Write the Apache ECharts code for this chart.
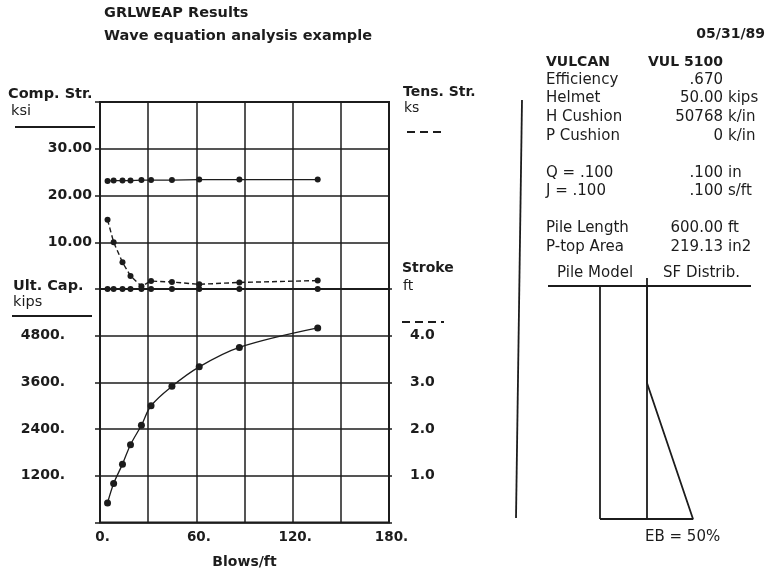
<!DOCTYPE html>
<html><head><meta charset="utf-8">
<script src="https://cdn.jsdelivr.net/npm/echarts@6/dist/echarts.min.js"></script>
<style>html,body{margin:0;padding:0;background:#fff}#c{width:767px;height:571px}</style>
</head><body><div id="c"></div>
<script>
// ---- data ----
const blowsPerFt   = [4.7, 8.5, 14.0, 19.0, 25.8, 31.8, 44.8, 61.8, 86.8, 135.6];
const ultCapKips   = [500, 1000, 1500, 2000, 2500, 3000, 3500, 4000, 4500, 5000];
const compStrKsi   = [23.1, 23.2, 23.2, 23.2, 23.3, 23.3, 23.3, 23.4, 23.4, 23.4];
const tensStrKsi   = [14.8, 10.0, 5.7, 2.8, 0.6, 1.7, 1.5, 1.0, 1.4, 1.8];
const strokeFt     = [5.0, 5.0, 5.0, 5.0, 5.0, 5.0, 5.0, 5.0, 5.0, 5.0];

const xLabelValues    = [0, 60, 120, 180];
const compLabelValues = [10, 20, 30];
const capLabelValues  = [1200, 2400, 3600, 4800];
const strokeLabelValues = [1, 2, 3, 4];

// pile model / skin friction distribution
const sfDepthFt = [0, 250, 600, 600];
const sfRel     = [0, 0, 1, 0];

// right-hand info panel
const panelLabels = ['VULCAN', 'Efficiency', 'Helmet', 'H Cushion', 'P Cushion', 'Q = .100', 'J = .100', 'Pile Length', 'P-top Area'];
const panelValues = ['VUL 5100', '.670', '50.00', '50768', '0', '.100', '.100', '600.00', '219.13'];
const panelUnits  = ['', '', 'kips', 'k/in', 'k/in', 'in', 's/ft', 'ft', 'in2'];
const panelRowY   = [62, 80, 98.5, 117, 136, 173, 191, 228.5, 247];

const INK = '#1c1c1c';
const FONT = 'DejaVu Sans';
const zip = (a, b) => a.map((v, i) => [v, b[i]]);

const chart = echarts.init(document.getElementById('c'), null, {renderer: 'canvas'});

const gridStyle = {show: true, borderColor: INK, borderWidth: 2, backgroundColor: 'transparent', outerBoundsMode: 'none', containLabel: false};
const splitStyle = {show: true, lineStyle: {color: INK, width: 1.5, type: 'solid'}};
const labelBase = {color: INK, fontFamily: FONT, fontWeight: 'bold', fontSize: 14};

function txt(x, y, text, opts) {
  opts = opts || {};
  return {type: 'text', x: x, y: y, silent: true, style: {
    text: text, fill: INK, fontFamily: FONT,
    fontSize: opts.size || 15, fontWeight: opts.bold ? 'bold' : 'normal',
    textAlign: opts.align || 'left', textVerticalAlign: 'middle', verticalAlign: 'middle'
  }};
}
function ln(x1, y1, x2, y2, w, dash) {
  return {type: 'line', silent: true, shape: {x1: x1, y1: y1, x2: x2, y2: y2},
    style: {stroke: INK, lineWidth: w || 1.5, lineDash: dash || null}};
}

const graphics = [
  txt(104, 13, 'GRLWEAP Results', {bold: true, size: 14.5}),
  txt(104, 36, 'Wave equation analysis example', {bold: true, size: 14.5}),
  txt(765, 34, '05/31/89', {bold: true, size: 14, align: 'right'}),
  txt(8, 94, 'Comp. Str.', {bold: true, size: 14.5}),
  txt(11, 111, 'ksi', {size: 14.5}),
  ln(15, 127, 95, 127, 1.8),
  txt(13, 286, 'Ult. Cap.', {bold: true, size: 14.5}),
  txt(13, 302, 'kips', {size: 14.5}),
  ln(12, 316, 92, 316, 1.8),
  txt(403, 92, 'Tens. Str.', {bold: true, size: 14}),
  txt(404, 108, 'ks', {size: 14}),
  ln(407, 132, 446, 132, 2, [8, 5]),
  txt(402, 268, 'Stroke', {bold: true, size: 14}),
  txt(403, 286, 'ft', {size: 14}),
  ln(402, 322, 444, 322, 2, [8, 5]),
  ln(522, 100, 516, 518, 1.8),
  txt(557, 273, 'Pile Model', {size: 15}),
  txt(663, 273, 'SF Distrib.', {size: 15}),
  ln(548, 286, 751, 286, 1.8),
  ln(600, 286, 600, 519, 1.8),
  ln(600, 519, 647, 519, 1.8),
  ln(647, 278, 647, 286, 1.8),
  txt(645, 537, 'EB = 50%', {size: 15})
];
panelLabels.forEach((s, i) => {
  graphics.push(txt(546, panelRowY[i], s, {bold: i === 0, size: i === 0 ? 14 : 15}));
  graphics.push(txt(723, panelRowY[i], panelValues[i], {bold: i === 0, size: i === 0 ? 14 : 15, align: 'right'}));
  if (panelUnits[i]) graphics.push(txt(728, panelRowY[i], panelUnits[i], {size: 15}));
});

const option = {
  backgroundColor: '#ffffff',
  animation: false,
  textStyle: {fontFamily: FONT, color: INK},
  grid: [
    Object.assign({left: 100, top: 102, width: 289, height: 187}, gridStyle),
    Object.assign({left: 100, top: 289, width: 289, height: 233.5}, gridStyle),
    {left: 647, top: 286, width: 46, height: 233, show: false, outerBoundsMode: 'none', containLabel: false}
  ],
  xAxis: [
    {type: 'value', gridIndex: 0, min: 0, max: 180, interval: 30,
     axisLine: {show: false}, axisTick: {show: false}, axisLabel: {show: false}, splitLine: splitStyle},
    {type: 'value', gridIndex: 1, min: 0, max: 180, interval: 30, position: 'bottom',
     axisLine: {show: false, onZero: false}, axisTick: {show: false}, splitLine: splitStyle,
     axisLabel: Object.assign({}, labelBase, {fontSize: 13.5, margin: 8, padding: [0, 0, 0, 5],
       formatter: v => xLabelValues.includes(v) ? v + '.' : ''}),
     name: 'Blows/ft', nameLocation: 'middle', nameGap: 33,
     nameTextStyle: {color: INK, fontFamily: FONT, fontWeight: 'bold', fontSize: 14}},
    {type: 'value', gridIndex: 2, min: 0, max: 1, show: false}
  ],
  yAxis: [
    {type: 'value', gridIndex: 0, position: 'left', min: 0, max: 40, interval: 10,
     axisLine: {show: false}, axisTick: {show: true, length: 5, lineStyle: {color: INK, width: 1.5}},
     splitLine: splitStyle,
     axisLabel: Object.assign({}, labelBase, {margin: 8, padding: [0, 0, 6, 0],
       formatter: v => compLabelValues.includes(v) ? v.toFixed(2) : ''})},
    {type: 'value', gridIndex: 0, position: 'right', min: 0, max: 40, interval: 10,
     axisLine: {show: false}, axisTick: {show: false}, axisLabel: {show: false}, splitLine: {show: false}},
    {type: 'value', gridIndex: 1, position: 'left', min: 0, max: 6000, interval: 1200,
     axisLine: {show: false}, axisTick: {show: true, length: 5, lineStyle: {color: INK, width: 1.5}},
     splitLine: splitStyle,
     axisLabel: Object.assign({}, labelBase, {margin: 35, padding: [6, 0, 0, 0],
       formatter: v => capLabelValues.includes(v) ? v + '.' : ''})},
    {type: 'value', gridIndex: 1, position: 'right', min: 0, max: 5, interval: 1,
     axisLine: {show: false}, axisTick: {show: true, length: 3, lineStyle: {color: INK, width: 1.5}},
     splitLine: {show: false},
     axisLabel: Object.assign({}, labelBase, {margin: 21, padding: [10, 0, 0, 0],
       formatter: v => strokeLabelValues.includes(v) ? v.toFixed(1) : ''})},
    {type: 'value', gridIndex: 2, position: 'left', min: 0, max: 600, inverse: true,
     axisLine: {show: true, onZero: false, lineStyle: {color: INK, width: 1.8}},
     axisTick: {show: false}, axisLabel: {show: false}, splitLine: {show: false}}
  ],
  series: [
    {name: 'Comp. Str.', type: 'line', xAxisIndex: 0, yAxisIndex: 0, data: zip(blowsPerFt, compStrKsi),
     symbol: 'circle', symbolSize: 6, clip: false,
     lineStyle: {color: INK, width: 1.2}, itemStyle: {color: INK}, z: 5},
    {name: 'Tens. Str.', type: 'line', xAxisIndex: 0, yAxisIndex: 1, data: zip(blowsPerFt, tensStrKsi),
     symbol: 'circle', symbolSize: 6, clip: false,
     lineStyle: {color: INK, width: 1.4, type: [5, 3]}, itemStyle: {color: INK}, z: 5},
    {name: 'Ult. Cap.', type: 'line', xAxisIndex: 1, yAxisIndex: 2, data: zip(blowsPerFt, ultCapKips),
     symbol: 'circle', symbolSize: 7, smooth: 0.35, clip: false,
     lineStyle: {color: INK, width: 1.3}, itemStyle: {color: INK}, z: 5},
    {name: 'Stroke', type: 'line', xAxisIndex: 1, yAxisIndex: 3, data: zip(blowsPerFt, strokeFt),
     symbol: 'circle', symbolSize: 6, clip: false,
     lineStyle: {color: INK, width: 1.2, type: [5, 3]}, itemStyle: {color: INK}, z: 5},
    {name: 'SF Distrib.', type: 'line', xAxisIndex: 2, yAxisIndex: 4, data: zip(sfRel, sfDepthFt),
     symbol: 'none', clip: false, lineStyle: {color: INK, width: 1.8}, z: 5}
  ],
  graphic: graphics
};
chart.setOption(option);
</script>
</body></html>
